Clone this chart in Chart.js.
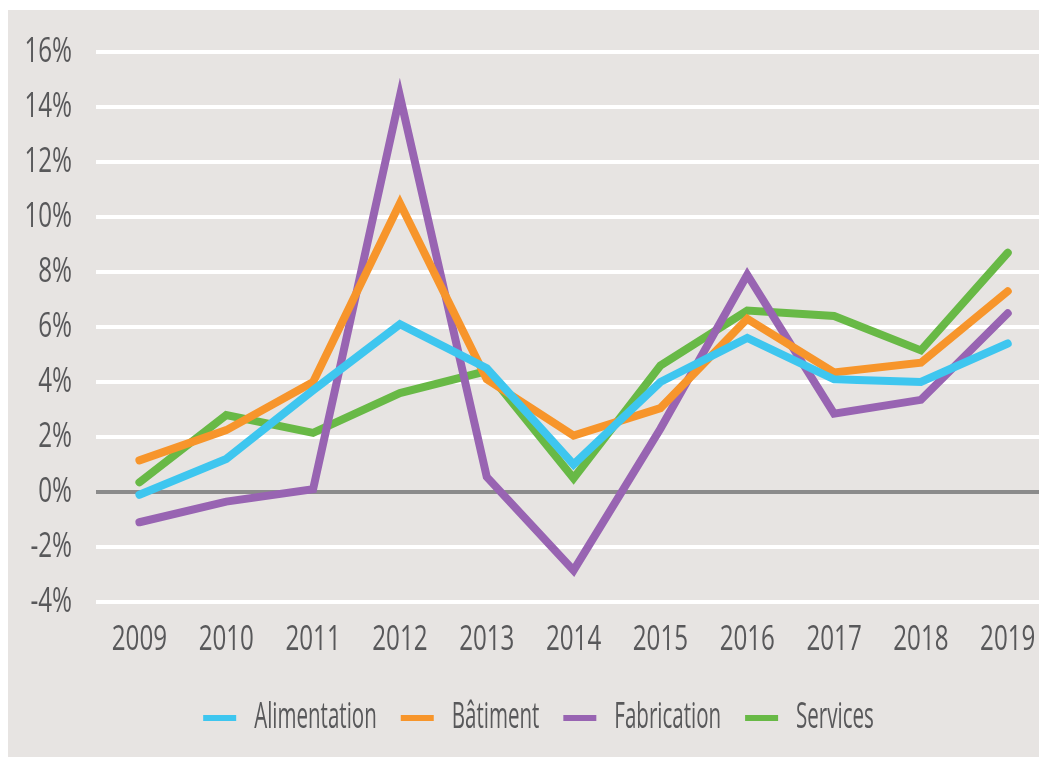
<!DOCTYPE html>
<html>
<head>
<meta charset="utf-8">
<script src="https://cdn.jsdelivr.net/npm/chart.js@4"></script>
<style>
  html, body { margin: 0; padding: 0; background: #fff; }
  #panel { position: absolute; left: 8px; top: 10px; width: 1031px; height: 747px; background: #e7e4e2; }
</style>
</head>
<body>
<div id="panel"><canvas id="chart" width="1031" height="747"></canvas></div>
<script>
const years = [2009, 2010, 2011, 2012, 2013, 2014, 2015, 2016, 2017, 2018, 2019];
const alimentation = [-0.1, 1.2, 3.7, 6.1, 4.5, 1.0, 4.0, 5.6, 4.1, 4.0, 5.4];
const batiment = [1.15, 2.25, 4.0, 10.5, 4.1, 2.05, 3.05, 6.3, 4.35, 4.7, 7.3];
const fabrication = [-1.1, -0.35, 0.1, 14.4, 0.55, -2.85, 2.3, 7.9, 2.85, 3.35, 6.5];
const services = [0.35, 2.8, 2.15, 3.6, 4.4, 0.5, 4.6, 6.6, 6.4, 5.15, 8.7];
const yTicks = [-4, -2, 0, 2, 4, 6, 8, 10, 12, 14, 16];

const FONT = "'Open Sans', 'Noto Sans', sans-serif";
const TEXT = '#58585a';
const TICK_SIZE = 35;
const LEGEND_SIZE = 36;

const series = [
    { label: 'Alimentation', values: alimentation, color: '#3ec6ef' },
    { label: 'Bâtiment', values: batiment, color: '#f7952b' },
    { label: 'Fabrication', values: fabrication, color: '#9864b2' },
    { label: 'Services', values: services, color: '#68b946' }
];

// no condensed font installed, so squeeze the text horizontally instead
const canvas = document.getElementById('chart');
const ctx = canvas.getContext('2d');
const nativeFill = ctx.fillText.bind(ctx);
const nativeMeasure = ctx.measureText.bind(ctx);
const squeeze = () => ctx.font.includes(LEGEND_SIZE + 'px') ? 0.57 : 0.69;
ctx.fillText = function (text, x, y) {
    const k = squeeze();
    this.save();
    this.translate(x, y);
    this.scale(k, 1);
    nativeFill(text, 0, 0);
    this.restore();
};
ctx.measureText = function (text) {
    const k = squeeze();
    const m = nativeMeasure(text);
    return {
        width: m.width * k,
        actualBoundingBoxAscent: m.actualBoundingBoxAscent,
        actualBoundingBoxDescent: m.actualBoundingBoxDescent,
        actualBoundingBoxLeft: m.actualBoundingBoxLeft * k,
        actualBoundingBoxRight: m.actualBoundingBoxRight * k
    };
};

// the legend sits a little right of the canvas centre in the original
const legendShift = {
    id: 'legendShift',
    afterLayout(chart) { chart.legend.left += 30; }
};

new Chart(ctx, {
    type: 'line',
    data: {
        datasets: series.map(s => ({
            label: s.label,
            data: years.map((y, i) => ({ x: y, y: s.values[i] })),
            borderColor: s.color,
            backgroundColor: s.color,
            borderWidth: 8,
            borderCapStyle: 'round',
            borderJoinStyle: 'miter',
            pointRadius: 0,
            tension: 0
        }))
    },
    plugins: [legendShift],
    options: {
        responsive: false,
        animation: false,
        layout: { autoPadding: false, padding: { top: 42, right: 0, bottom: 11, left: 0 } },
        plugins: {
            tooltip: { enabled: false },
            legend: {
                position: 'bottom',
                labels: {
                    color: TEXT,
                    font: { family: FONT, size: LEGEND_SIZE },
                    boxWidth: 33,
                    boxHeight: 6,
                    padding: 24,
                    generateLabels: chart => chart.data.datasets.map((d, i) => ({
                        text: d.label,
                        fillStyle: d.borderColor,
                        strokeStyle: d.borderColor,
                        lineWidth: 0,
                        fontColor: TEXT,
                        datasetIndex: i
                    }))
                }
            }
        },
        scales: {
            x: {
                type: 'linear',
                min: 2008.5,
                max: 2019.36,
                afterBuildTicks: s => { s.ticks = years.map(v => ({ value: v })); },
                afterFit: s => {
                    s.height = 74;
                    s.paddingLeft = 0;
                    s.paddingRight = 0;
                },
                grid: { display: false, drawTicks: false },
                border: { display: false },
                ticks: {
                    color: TEXT,
                    font: { family: FONT, size: TICK_SIZE },
                    padding: 17,
                    maxRotation: 0,
                    autoSkip: false,
                    callback: v => String(v)
                }
            },
            y: {
                min: -4,
                max: 16,
                afterBuildTicks: s => { s.ticks = yTicks.map(v => ({ value: v })); },
                afterFit: s => {
                    s.width = 88;
                    s.paddingTop = 0;
                    s.paddingBottom = 0;
                },
                grid: {
                    drawTicks: false,
                    lineWidth: 4,
                    color: c => c.tick && c.tick.value === 0 ? '#8b8b8b' : '#ffffff'
                },
                border: { display: false },
                ticks: {
                    color: TEXT,
                    font: { family: FONT, size: TICK_SIZE },
                    padding: 24,
                    callback: v => v + '%'
                }
            }
        }
    }
});
</script>
</body>
</html>
